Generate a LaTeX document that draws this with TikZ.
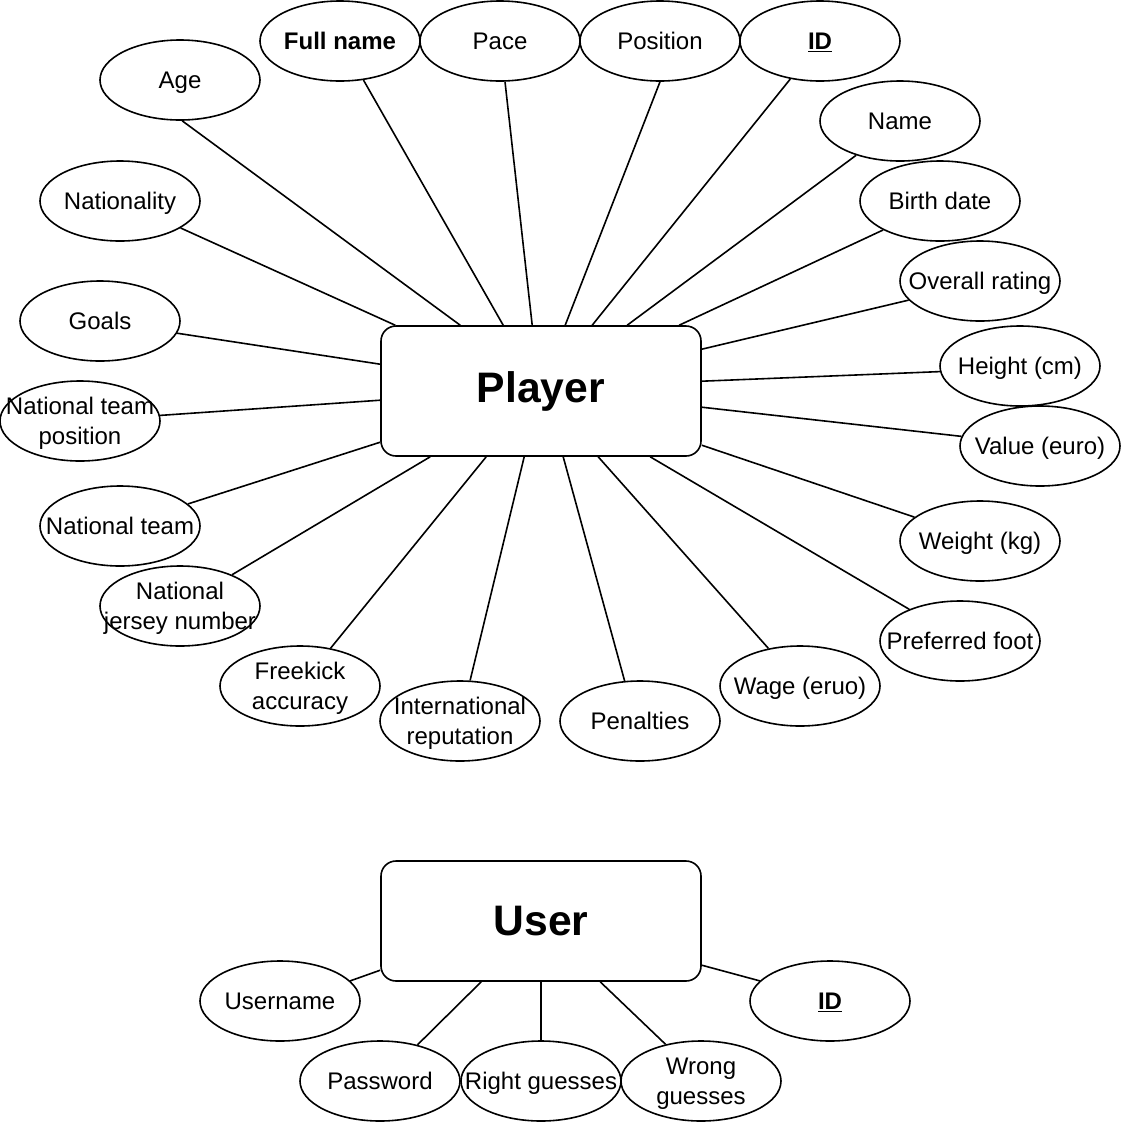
\documentclass[tikz,border=0pt]{standalone}
\usepackage{fontspec}
\setmainfont{Liberation Sans}
\usetikzlibrary{shapes.geometric,calc}

\begin{document}
\begin{tikzpicture}[x=0.75pt,y=-0.75pt,
  attr/.style={ellipse,draw,line width=1.2pt,minimum width=120pt,minimum height=60pt,
    inner xsep=-20pt,inner ysep=0pt,text height=12.9pt,text depth=0pt,
    align=center,font=\fontsize{18}{23}\selectfont},
  attrtwo/.style={attr,text height=35.9pt},
  entity/.style={rectangle,draw,line width=1.2pt,rounded corners=11.25pt,
    minimum width=240pt,font=\bfseries\fontsize{32}{38}\selectfont},
  link/.style={line width=1.2pt}]
\useasboundingbox (0,0) rectangle (1122,1122);
% entities
\node[entity,minimum height=97.5pt] (player) at (541,391) {Player};
\node[entity,minimum height=90pt] (user) at (541,921) {User};
% player attributes
\node[attr] (age) at (180,80) {Age};
\node[attr] (fullname) at (340,41) {\textbf{Full name}};
\node[attr] (pace) at (500,41) {Pace};
\node[attr] (position) at (660,41) {Position};
\node[attr] (pid) at (820,41) {\underline{\textbf{ID}}};
\node[attr] (name) at (900,121) {Name};
\node[attr] (birth) at (940,201) {Birth date};
\node[attr] (overall) at (980,281) {Overall rating};
\node[attr] (height) at (1020,366) {Height (cm)};
\node[attr] (value) at (1040,446) {Value (euro)};
\node[attr] (weight) at (980,541) {Weight (kg)};
\node[attr] (foot) at (960,641) {Preferred foot};
\node[attr] (wage) at (800,686) {Wage (eruo)};
\node[attr] (penalties) at (640,721) {Penalties};
\node[attrtwo] (reputation) at (460,721) {International\\reputation};
\node[attrtwo] (freekick) at (300,686) {Freekick\\accuracy};
\node[attrtwo] (jersey) at (180,606) {National\\jersey number};
\node[attr] (natteam) at (120,526) {National team};
\node[attrtwo] (natpos) at (80,421) {National team\\position};
\node[attr] (goals) at (100,321) {Goals};
\node[attr] (nationality) at (120,201) {Nationality};
% user attributes
\node[attr] (username) at (280,1001) {Username};
\node[attr] (password) at (380,1081) {Password};
\node[attr] (right) at (541,1081) {Right guesses};
\node[attrtwo] (wrong) at (701,1081) {Wrong\\guesses};
\node[attr] (uid) at (830,1001) {\underline{\textbf{ID}}};
% player links
\draw[link] (age.273) -- ($(player.north west)+(80,0)$);
\draw[link] (fullname.301) -- ($(player.north west)+(123,0)$);
\draw[link] (pace.277) -- ($(player.north west)+(152,0)$);
\draw[link] (position.south) -- ($(player.north west)+(185,0)$);
\draw[link] (pid.232) -- ($(player.north west)+(212,0)$);
\draw[link] (name.218) -- ($(player.north west)+(247,0)$);
\draw[link] (birth.207) -- ($(player.north west)+(299,0)$);
\draw[link] (overall.195) -- ($(player.north east)+(0,24)$);
\draw[link] (height.184) -- ($(player.north east)+(0,56)$);
\draw[link] (value.173) -- ($(player.north east)+(0,82)$);
\draw[link] (weight.160) -- ($(player.north east)+(0,120)$);
\draw[link] (foot.148) -- ($(player.south west)+(270,0)$);
\draw[link] (wage.130) -- ($(player.south west)+(218,0)$);
\draw[link] (penalties.111) -- ($(player.south west)+(183,0)$);
\draw[link] (reputation.76) -- ($(player.south west)+(144,0)$);
\draw[link] (freekick.51) -- ($(player.south west)+(106,0)$);
\draw[link] (jersey.31) -- ($(player.south west)+(50,0)$);
\draw[link] (natteam.18) -- ($(player.north west)+(0,117)$);
\draw[link] (natpos.4) -- ($(player.north west)+(0,75)$);
\draw[link] (goals.351) -- ($(player.north west)+(0,39)$);
\draw[link] (nationality.336) -- ($(player.north west)+(15,0)$);
% user links
\draw[link] (username.16) -- ($(user.north west)+(0,110)$);
\draw[link] (password.44) -- ($(user.south west)+(101,0)$);
\draw[link] (right.north) -- (user.south);
\draw[link] (wrong.134) -- ($(user.south west)+(220,0)$);
\draw[link] (uid.164) -- ($(user.north east)+(0,105)$);
\end{tikzpicture}
\end{document}
